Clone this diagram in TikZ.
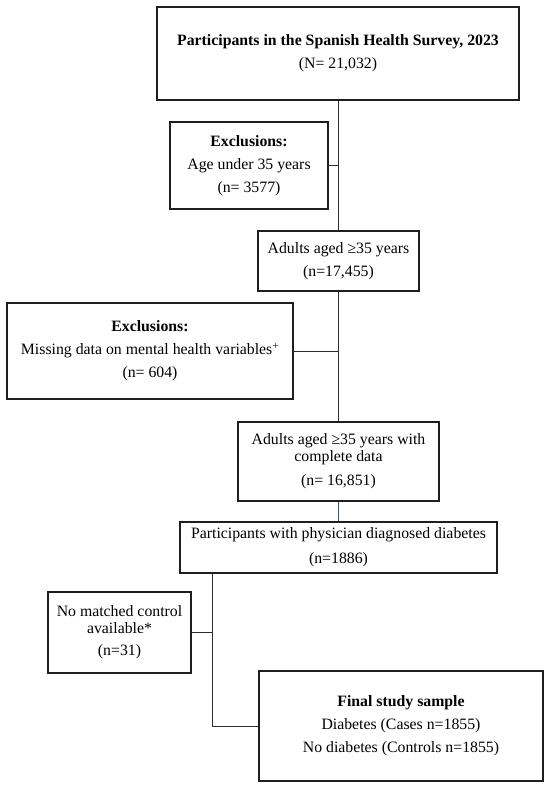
\documentclass[tikz,border=0pt]{standalone}
\usepackage{fontspec}
\setmainfont{Liberation Serif}
\definecolor{bordc}{RGB}{30,30,30}
\definecolor{linec}{RGB}{45,45,45}
\definecolor{bluec}{RGB}{40,95,125}
\begin{document}
\begin{tikzpicture}[x=1pt,y=-1pt,
  box/.style={draw=bordc, line width=1.5pt, inner sep=0pt, align=center,
    font=\fontsize{15.8}{17}\selectfont, text=black},
  conn/.style={draw=linec, line width=1pt}]
\useasboundingbox (0,0) rectangle (550,788);
\node[box, minimum width=362, minimum height=93] (b1) at (338,53.5)
  {\textbf{Participants in the Spanish Health Survey, 2023}\\[6pt](N= 21,032)};
\node[box, minimum width=158, minimum height=87] (b2) at (249,165.5)
  {\textbf{Exclusions:}\\[6pt]Age under 35 years\\[6pt](n= 3577)};
\node[box, minimum width=161, minimum height=60] (b3) at (338.5,261)
  {Adults aged ≥35 years\\[6pt](n=17,455)};
\node[box, minimum width=286, minimum height=96] (b4) at (150,351)
  {\textbf{Exclusions:}\\[6pt]Missing data on mental health variables\textsuperscript{+}\\[6pt](n= 604)};
\node[box, minimum width=201, minimum height=79] (b5) at (338.5,461.5)
  {Adults aged ≥35 years with\\complete data\\[7pt](n= 16,851)};
\node[box, minimum width=317, minimum height=51] (b6) at (338.5,547.5)
  {Participants with physician diagnosed diabetes\\[8pt](n=1886)};
\node[box, minimum width=143, minimum height=81] (b7) at (119.5,632.5)
  {No matched control\\available*\\[5pt](n=31)};
\node[box, minimum width=284, minimum height=110] (b8) at (401,726)
  {\textbf{Final study sample}\\[6pt]Diabetes (Cases n=1855)\\[6pt]No diabetes (Controls n=1855)};
\coordinate (jx) at (212,0);
\draw[conn] (b1.south) -- (b1.south |- b3.north);
\draw[conn] (b2.east) -- (b2.east -| b1.south);
\draw[conn] (b3.south) -- (b3.south |- b5.north);
\draw[conn] (b4.east) -- (b4.east -| b3.south);
\draw[conn, draw=bluec] (b5.south) -- (b5.south |- b6.north);
\draw[conn] (jx |- b6.south) -- (jx |- b8.west) -- (b8.west);
\draw[conn] (b7.east) -- (b7.east -| jx);
\end{tikzpicture}
\end{document}
